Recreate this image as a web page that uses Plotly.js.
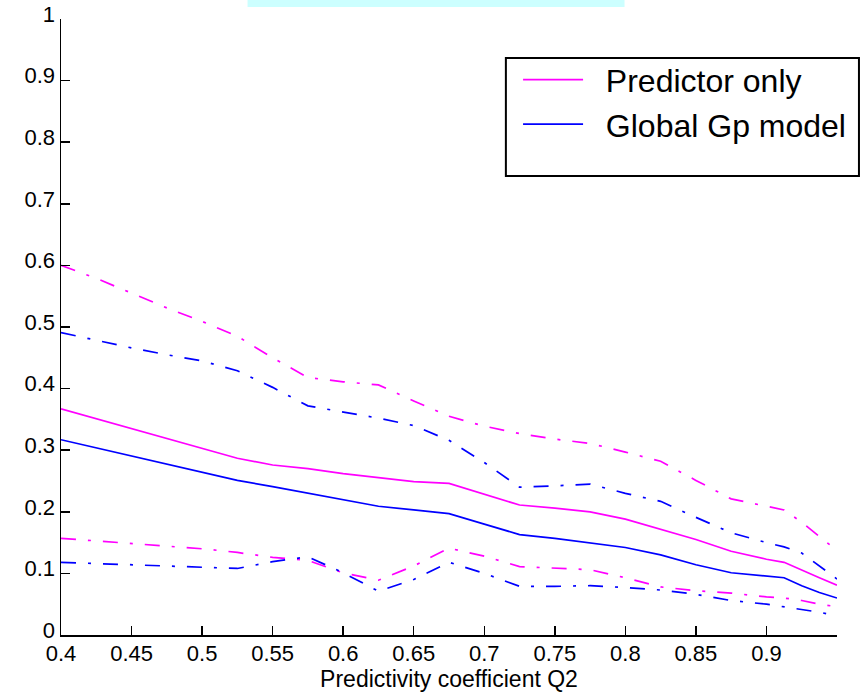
<!DOCTYPE html>
<html>
<head>
<meta charset="utf-8">
<script src="https://cdn.plot.ly/plotly-3.0.1.min.js"></script>
<style>
  html, body { margin: 0; padding: 0; background: #ffffff; }
  #chart { width: 863px; height: 699px; }
</style>
</head>
<body>
<div id="chart"></div>
<script>
// Predictivity coefficient Q2 (x values)
const q2 = [0.4, 0.425, 0.45, 0.475, 0.5, 0.525, 0.55, 0.575, 0.6, 0.625, 0.65, 0.675,
            0.7, 0.725, 0.75, 0.775, 0.8, 0.825, 0.85, 0.875, 0.9, 0.9125, 0.925, 0.9375, 0.95];

// Predictor only: mean and dash-dot envelope
const predictorMean  = [0.367, 0.351, 0.335, 0.318, 0.302, 0.287, 0.276, 0.270, 0.262, 0.255, 0.249, 0.246,
                        0.228, 0.211, 0.206, 0.200, 0.188, 0.172, 0.155, 0.136, 0.123, 0.118, 0.105, 0.093, 0.081];
const predictorUpper = [0.600, 0.579, 0.555, 0.531, 0.509, 0.485, 0.450, 0.418, 0.411, 0.406, 0.380, 0.355,
                        0.339, 0.327, 0.318, 0.311, 0.297, 0.282, 0.251, 0.221, 0.209, 0.203, 0.183, 0.160, 0.137];
const predictorLower = [0.157, 0.153, 0.148, 0.144, 0.140, 0.134, 0.126, 0.121, 0.101, 0.089, 0.112, 0.141,
                        0.128, 0.111, 0.108, 0.106, 0.093, 0.078, 0.072, 0.068, 0.062, 0.060, 0.056, 0.050, 0.046];

// Global Gp model: mean and dash-dot envelope
const gpMean  = [0.317, 0.304, 0.291, 0.278, 0.265, 0.251, 0.241, 0.230, 0.219, 0.209, 0.203, 0.197,
                 0.180, 0.163, 0.157, 0.150, 0.142, 0.130, 0.114, 0.101, 0.096, 0.093, 0.080, 0.069, 0.060];
const gpUpper = [0.491, 0.478, 0.466, 0.455, 0.445, 0.429, 0.402, 0.372, 0.362, 0.352, 0.340, 0.316,
                 0.280, 0.240, 0.242, 0.245, 0.230, 0.217, 0.191, 0.166, 0.150, 0.143, 0.133, 0.112, 0.091];
const gpLower = [0.118, 0.116, 0.115, 0.112, 0.110, 0.108, 0.119, 0.127, 0.101, 0.071, 0.090, 0.118,
                 0.100, 0.079, 0.079, 0.080, 0.077, 0.073, 0.066, 0.056, 0.050, 0.046, 0.042, 0.037, 0.031];

const seriesNames = ['Predictor only', 'Global Gp model'];
const xTicks = [0.4, 0.45, 0.5, 0.55, 0.6, 0.65, 0.7, 0.75, 0.8, 0.85, 0.9];
const xTickText = ['0.4', '0.45', '0.5', '0.55', '0.6', '0.65', '0.7', '0.75', '0.8', '0.85', '0.9'];
const yTicks = [0, 0.1, 0.2, 0.3, 0.4, 0.5, 0.6, 0.7, 0.8, 0.9, 1];
const yTickText = ['0', '0.1', '0.2', '0.3', '0.4', '0.5', '0.6', '0.7', '0.8', '0.9', '1'];

const MAGENTA = '#ff00ff';
const BLUE = '#0000ff';
const DASHDOT = '15px,12px,3px,12px';
const FONT = 'Liberation Sans, Arial, sans-serif';
const LEGEND_PAD = '\u00a0\u00a0';  // gap between legend sample line and its label

function line(y, color, dash, name, show) {
  return {
    x: q2, y: y, type: 'scatter', mode: 'lines',
    name: name, showlegend: show,
    line: { color: color, width: 1.7, dash: dash },
    hoverinfo: 'skip'
  };
}

const traces = [
  line(predictorMean, MAGENTA, 'solid', LEGEND_PAD + seriesNames[0], true),
  line(gpMean, BLUE, 'solid', LEGEND_PAD + seriesNames[1], true),
  line(predictorUpper, MAGENTA, DASHDOT, seriesNames[0] + ' upper', false),
  line(predictorLower, MAGENTA, DASHDOT, seriesNames[0] + ' lower', false),
  line(gpUpper, BLUE, DASHDOT, seriesNames[1] + ' upper', false),
  line(gpLower, BLUE, DASHDOT, seriesNames[1] + ' lower', false)
];

const axisCommon = {
  showline: true, linecolor: '#000', linewidth: 1.5,
  ticks: 'inside', ticklen: 9, tickwidth: 1.5, tickcolor: '#000',
  showgrid: false, zeroline: false, mirror: false,
  tickfont: { family: FONT, size: 22, color: '#000' }
};

const layout = {
  width: 863, height: 699,
  margin: { l: 61, r: 24, t: 19, b: 64 },
  paper_bgcolor: '#ffffff', plot_bgcolor: '#ffffff',
  showlegend: true,
  xaxis: Object.assign({}, axisCommon, {
    range: [0.4, 0.95], tickmode: 'array', tickvals: xTicks, ticktext: xTickText,
    ticklabelstandoff: -2,
    title: { text: 'Predictivity coefficient Q2', font: { family: FONT, size: 23, color: '#000' }, standoff: 0 }
  }),
  yaxis: Object.assign({}, axisCommon, {
    range: [0, 1], tickmode: 'array', tickvals: yTicks, ticktext: yTickText,
    ticklabelstandoff: 0, ticklabelshift: -5
  }),
  legend: {
    x: 0.589, y: 0.946, xanchor: 'left', yanchor: 'top',
    bgcolor: 'rgba(0,0,0,0)', borderwidth: 0,
    itemwidth: 60, tracegroupgap: 0,
    font: { family: FONT, size: 32, color: '#000' }
  },
  shapes: [
    // title band at the top edge
    { type: 'rect', xref: 'paper', yref: 'paper', x0: 0.2404, x1: 0.7262, y0: 1.0195, y1: 1.04,
      fillcolor: '#ccffff', line: { width: 0 } },
    // legend frame
    { type: 'rect', xref: 'paper', yref: 'paper', x0: 0.5733, x1: 1.0283, y0: 0.7451, y1: 0.9367,
      fillcolor: '#ffffff', line: { color: '#000', width: 2 }, layer: 'above' }
  ]
};

Plotly.newPlot('chart', traces, layout, { displayModeBar: false, staticPlot: true });
</script>
</body>
</html>
